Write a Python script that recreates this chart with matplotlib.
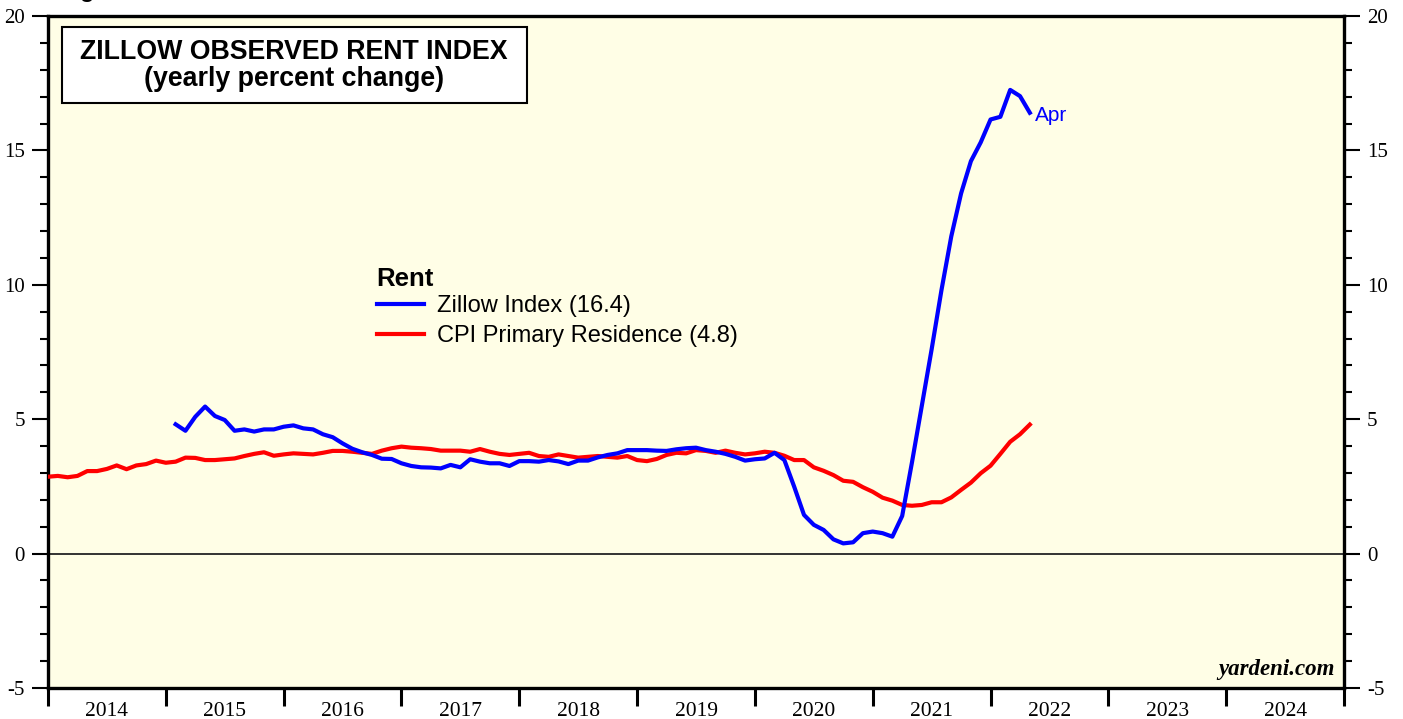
import matplotlib
matplotlib.use("Agg")
import matplotlib.pyplot as plt
from matplotlib.patches import Rectangle
import numpy as np
import pandas as pd

plt.rcParams["axes.unicode_minus"] = False

# monthly data, plotted at end of month
cpi_start = "2013-12"
cpi_vals = [2.86, 2.89, 2.84, 2.89, 3.07, 3.07, 3.15, 3.28, 3.14, 3.28, 3.33, 3.46, 3.38,
            3.42, 3.57, 3.56, 3.48, 3.48, 3.51, 3.54, 3.63, 3.71, 3.77, 3.64, 3.69,
            3.73, 3.71, 3.69, 3.75, 3.82, 3.82, 3.79, 3.75, 3.71, 3.83, 3.92, 3.98,
            3.94, 3.92, 3.89, 3.83, 3.83, 3.83, 3.79, 3.89, 3.79, 3.71, 3.67, 3.71,
            3.75, 3.63, 3.60, 3.69, 3.63, 3.57, 3.60, 3.63, 3.60, 3.57, 3.63, 3.48,
            3.44, 3.52, 3.67, 3.75, 3.73, 3.85, 3.82, 3.75, 3.83, 3.75, 3.69, 3.73,
            3.79, 3.75, 3.64, 3.48, 3.48, 3.21, 3.08, 2.92, 2.71, 2.67, 2.47, 2.30,
            2.08, 1.97, 1.81, 1.78, 1.81, 1.91, 1.91, 2.09, 2.37, 2.64, 2.99, 3.27,
            3.71, 4.16, 4.44, 4.80]

zillow_start = "2015-01"
zillow_vals = [4.81, 4.57, 5.09, 5.47, 5.12, 4.97, 4.57, 4.62, 4.54, 4.62, 4.62, 4.72,
               4.77, 4.66, 4.62, 4.44, 4.33, 4.10, 3.90, 3.77, 3.67, 3.53, 3.52, 3.36,
               3.26, 3.21, 3.20, 3.17, 3.30, 3.21, 3.51, 3.42, 3.36, 3.36, 3.26, 3.44,
               3.44, 3.42, 3.48, 3.43, 3.33, 3.46, 3.46, 3.58, 3.67, 3.73, 3.85, 3.85,
               3.85, 3.83, 3.82, 3.88, 3.92, 3.94, 3.85, 3.79, 3.71, 3.60, 3.46, 3.51,
               3.54, 3.75, 3.48, 2.49, 1.44, 1.07, 0.88, 0.53, 0.38, 0.42, 0.76, 0.82,
               0.76, 0.63, 1.40, 3.40, 5.50, 7.60, 9.80, 11.80, 13.40, 14.60, 15.30, 16.15,
               16.25, 17.25, 17.02, 16.40]

years = list(range(2014, 2025))


def to_x(start, n):
    d = pd.date_range(start, periods=n, freq="MS")
    return d.year + d.month / 12.0


cpi_x = to_x(cpi_start, len(cpi_vals))
zil_x = to_x(zillow_start, len(zillow_vals))

fig = plt.figure(figsize=(14.03, 7.19), dpi=100)
ax = fig.add_axes([48 / 1403, 1 - 688 / 719, 1296 / 1403, 672 / 719])
ax.set_facecolor("#fffee6")

ax.axhline(0, color="#333333", lw=1.4, zorder=1)
ax.plot(cpi_x, cpi_vals, color="#ff0000", lw=3.0, label="CPI Primary Residence (4.8)", zorder=3)
ax.plot(zil_x, zillow_vals, color="#0000ff", lw=3.0, label="Zillow Index (16.4)", zorder=4)

ax.set_xlim(2014, 2025)
ax.set_ylim(-5, 20)

# y axis on both sides
ax.set_yticks(range(-5, 21, 5))
ax.set_yticks(range(-5, 21), minor=True)
ax.tick_params(axis="y", which="both", left=True, right=True, labelleft=True, labelright=True,
               direction="out", width=1.5, color="black")
ax.tick_params(axis="y", which="major", length=11.5, pad=5, labelsize=15)
ax.tick_params(axis="y", which="minor", length=6)
for lab in ax.get_yticklabels():
    lab.set_fontfamily("Liberation Serif")

# x axis: ticks at year boundaries, labels centered in between
ax.set_xticks(years + [2025])
ax.set_xticklabels([])
ax.set_xticks([y + 0.5 for y in years], minor=True)
ax.set_xticklabels([str(y) for y in years], minor=True, fontfamily="Liberation Serif", fontsize=15.5)
ax.tick_params(axis="x", which="major", direction="out", length=13, width=2.2)
ax.tick_params(axis="x", which="minor", length=0, pad=10)

for s in ax.spines.values():
    s.set_linewidth(2.4)

# title box
ax.add_patch(Rectangle((14 / 1296, 1 - 87 / 672), 465 / 1296, 76 / 672, transform=ax.transAxes,
                       facecolor="white", edgecolor="black", lw=1.5, zorder=5))
ax.text(0.190, 0.947, "ZILLOW OBSERVED RENT INDEX", transform=ax.transAxes, ha="center", va="center",
        fontsize=19.3, fontweight="bold", fontfamily="Liberation Sans", zorder=6)
ax.text(0.190, 0.906, "(yearly percent change)", transform=ax.transAxes, ha="center", va="center",
        fontsize=19.3, fontweight="bold", fontfamily="Liberation Sans", zorder=6)

# legend
h, l = ax.get_legend_handles_labels()
leg = ax.legend(h[::-1], l[::-1], title="Rent", loc="upper left", bbox_to_anchor=(0.2535, 0.626),
                frameon=False, borderpad=0, borderaxespad=0, handlelength=2.0, handletextpad=0.55,
                labelspacing=0.32, alignment="left",
                prop={"family": "Liberation Sans", "size": 17},
                title_fontproperties={"family": "Liberation Sans", "size": 18.5, "weight": "bold"})
leg._legend_box.sep = 3

ax.annotate("Apr", (zil_x[-1], zillow_vals[-1]), xytext=(4, -2), textcoords="offset points",
            color="#0000ff", fontsize=15, fontfamily="Liberation Sans", va="center", ha="left")

ax.text(0.9925, 0.012, "yardeni.com", transform=ax.transAxes, ha="right", va="bottom",
        fontsize=16.5, fontweight="bold", fontstyle="italic", fontfamily="Liberation Serif")

fig.text(0.042, 1 + 3 / 719, "Figure 3.", fontsize=17, fontweight="bold",
         fontfamily="Liberation Sans", va="baseline")

fig.savefig("out.png", dpi=100)
